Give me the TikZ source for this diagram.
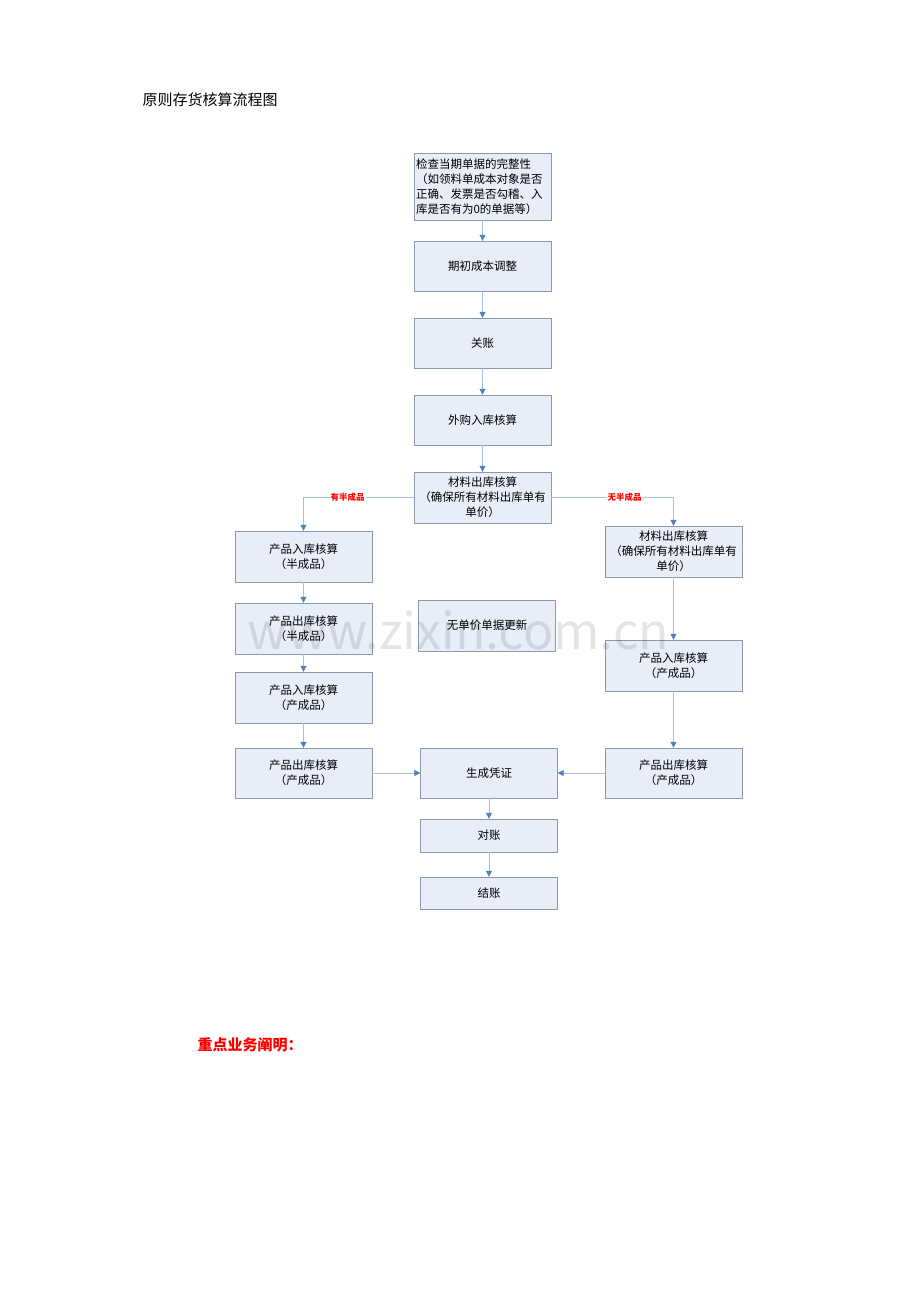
\documentclass[tikz,border=0pt]{standalone}
\usepackage{fontspec}
\setmainfont{Noto Sans CJK SC}
\usepackage{tikz}
\usetikzlibrary{arrows.meta}
\definecolor{box fill}{rgb}{0.91, 0.93, 0.97}
\definecolor{box line}{rgb}{0.55, 0.6, 0.68}
\definecolor{link line}{rgb}{0.66, 0.75, 0.88}
\definecolor{link tip}{rgb}{0.31, 0.51, 0.74}

\tikzset{
	flowbox/.style = {draw=box line, fill=box fill, minimum width=137pt, align=center,
		font=\fontsize{11.5}{15}\selectfont, inner sep=2pt},
	link/.style = {draw=link line, line width=0.8pt,
		-{Triangle[length=6pt, width=6pt, color=link tip]}},
	branch/.style = {text=red, font=\fontsize{8.5}{10}\selectfont\bfseries, fill=white, inner sep=1pt}
}

\begin{document}
\begin{tikzpicture}[x=1pt, y=-1pt]
	\useasboundingbox (0, 0) rectangle (920, 1302);
	% headings
	\node[anchor=west, font=\fontsize{15}{18}\selectfont] (title) at (139, 100) {原则存货核算流程图};
	\node[anchor=west, text=red, font=\fontsize{15}{18}\selectfont\bfseries] (note) at (194, 1045) {重点业务阐明：};
	% main column
	\node[flowbox, minimum height=67pt, align=left, text width=133pt] (check) at (482.5, 186.5)
		{检查当期单据的完整性\\（如领料单成本对象是否\\正确、发票是否勾稽、入\\库是否有为0的单据等）};
	\node[flowbox, minimum height=50pt] (open) at (482.5, 266) {期初成本调整};
	\node[flowbox, minimum height=50pt] (close) at (482.5, 343) {关账};
	\node[flowbox, minimum height=50pt] (buy) at (482.5, 420) {外购入库核算};
	\node[flowbox, minimum height=51pt] (mat) at (482.5, 497.5) {材料出库核算\\（确保所有材料出库单有\\单价）};
	% left column
	\node[flowbox, minimum height=51pt] (inA) at (303.5, 556.5) {产品入库核算\\（半成品）};
	\node[flowbox, minimum height=51pt] (outA) at (303.5, 628.5) {产品出库核算\\（半成品）};
	\node[flowbox, minimum height=51pt] (inB) at (303.5, 697.5) {产品入库核算\\（产成品）};
	\node[flowbox, minimum height=50pt] (outB) at (303.5, 773) {产品出库核算\\（产成品）};
	% right column
	\node[flowbox, minimum height=51pt] (matR) at (673.5, 551.5) {材料出库核算\\（确保所有材料出库单有\\单价）};
	\node[flowbox, minimum height=51pt] (inR) at (673.5, 665.5) {产品入库核算\\（产成品）};
	\node[flowbox, minimum height=50pt] (outR) at (673.5, 773) {产品出库核算\\（产成品）};
	% middle
	\node[flowbox, minimum height=51pt] (price) at (487, 625.5) {无单价单据更新};
	\node[flowbox, minimum height=50pt] (voucher) at (489, 773) {生成凭证};
	\node[flowbox, minimum height=33pt] (recon) at (489, 835.5) {对账};
	\node[flowbox, minimum height=32pt] (settle) at (489, 893) {结账};
	% links
	\draw[link] (check) -- (open);
	\draw[link] (open) -- (close);
	\draw[link] (close) -- (buy);
	\draw[link] (buy) -- (mat);
	\draw[link] (mat.west) -| node[branch, pos=0.3] {有半成品} (inA.north);
	\draw[link] (mat.east) -| node[branch, pos=0.3] {无半成品} (matR.north);
	\draw[link] (inA) -- (outA);
	\draw[link] (outA) -- (inB);
	\draw[link] (inB) -- (outB);
	\draw[link] (matR) -- (inR);
	\draw[link] (inR) -- (outR);
	\draw[link] (outB) -- (voucher);
	\draw[link] (outR) -- (voucher);
	\draw[link] (voucher) -- (recon);
	\draw[link] (recon) -- (settle);
	% watermark
	\node[text=black, text opacity=0.1, font=\fontsize{50}{56}\selectfont] (mark) at (458, 630) {www.zixin.com.cn};
\end{tikzpicture}
\end{document}
